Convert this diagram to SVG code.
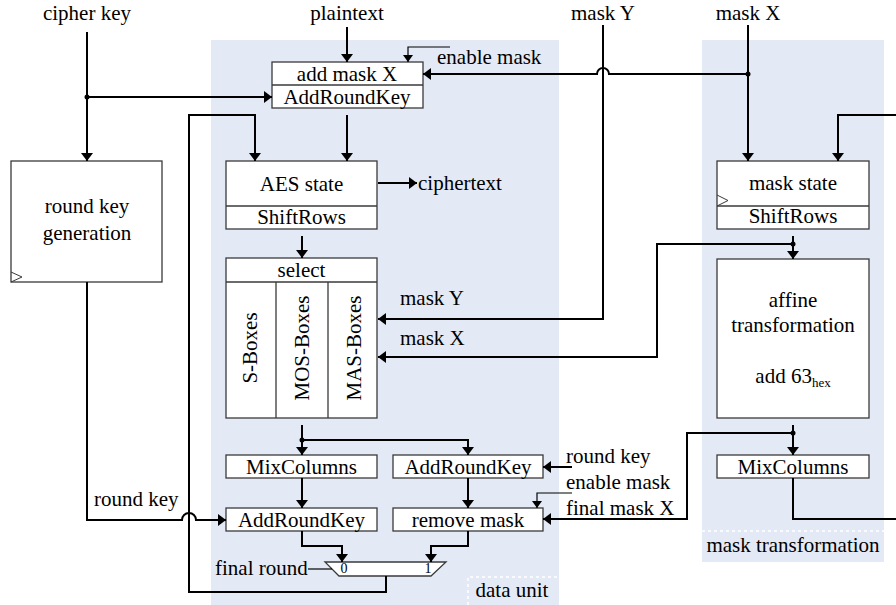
<svg xmlns="http://www.w3.org/2000/svg" width="896" height="605" viewBox="0 0 896 605" font-family="'Liberation Serif', 'Times New Roman', 'DejaVu Serif', serif">
<style>
text{font-family:'Liberation Serif','Times New Roman','DejaVu Serif',serif;font-size:21px;fill:#000}
.c{text-anchor:middle}
.box{fill:#fff;stroke:#3a3a3a;stroke-width:1.3}
.ln{fill:none;stroke:#000;stroke-width:2}
.thin{fill:none;stroke:#000;stroke-width:1.2}
.bg{fill:#e4eaf5}
.dash{fill:none;stroke:#fff;stroke-width:1.5;stroke-dasharray:3 3}
.clk{fill:none;stroke:#3a3a3a;stroke-width:1}
.small{font-size:14px}
</style>
<defs>
<marker id="arr" viewBox="0 0 8 12" refX="8" refY="6" markerWidth="8" markerHeight="12" markerUnits="userSpaceOnUse" orient="auto">
<path d="M0,0 L8,6 L0,12 z" fill="#000"/>
</marker>
<marker id="arrs" viewBox="0 0 7 10" refX="7" refY="5" markerWidth="7" markerHeight="10" markerUnits="userSpaceOnUse" orient="auto">
<path d="M0,0 L7,5 L0,10 z" fill="#000"/>
</marker>
</defs>

<g id="backgrounds">
<rect class="bg" x="211" y="40" width="348" height="565"/>
<rect class="bg" x="702" y="40" width="182" height="522"/>
<path class="dash" d="M468,605 V577 H559"/>
<path class="dash" d="M702,531 H884"/>
<text class="c" x="512" y="597">data unit</text>
<text class="c" x="793" y="552">mask transformation</text>
</g>

<g id="labels">
<text class="c" x="87" y="20">cipher key</text>
<text class="c" x="347" y="20">plaintext</text>
<text class="c" x="603" y="20">mask Y</text>
<text class="c" x="748" y="20">mask X</text>
<text x="437" y="64">enable mask</text>
<text x="418" y="190">ciphertext</text>
<text x="400" y="305">mask Y</text>
<text x="400" y="345">mask X</text>
<text x="566" y="463">round key</text>
<text x="566" y="489">enable mask</text>
<text x="566" y="515">final mask X</text>
<text x="94" y="506">round key</text>
<text x="215" y="575">final round</text>
</g>

<g id="roundkeygen">
<rect class="box" x="11" y="161" width="151" height="121"/>
<path class="clk" d="M11,272 L22,277 L11,282"/>
<text class="c" x="87" y="213">round key</text>
<text class="c" x="87" y="240">generation</text>
</g>

<g id="addmask">
<rect class="box" x="272" y="62" width="151" height="46"/>
<line x1="272" y1="85" x2="423" y2="85" stroke="#3a3a3a" stroke-width="1.3"/>
<text class="c" x="347" y="81">add mask X</text>
<text class="c" x="347" y="104">AddRoundKey</text>
</g>

<g id="aesstate">
<rect class="box" x="226" y="161" width="151" height="68"/>
<line x1="226" y1="206" x2="377" y2="206" stroke="#3a3a3a" stroke-width="1.3"/>
<text class="c" x="301.5" y="191">AES state</text>
<text class="c" x="301.5" y="224">ShiftRows</text>
</g>

<g id="sboxes">
<rect class="box" x="226" y="258" width="151" height="160"/>
<line x1="226" y1="282" x2="377" y2="282" stroke="#3a3a3a" stroke-width="1.3"/>
<line x1="276" y1="282" x2="276" y2="418" stroke="#3a3a3a" stroke-width="1.3"/>
<line x1="328" y1="282" x2="328" y2="418" stroke="#3a3a3a" stroke-width="1.3"/>
<text class="c" x="301.5" y="277">select</text>
<text class="c" transform="translate(257,348) rotate(-90)">S-Boxes</text>
<text class="c" transform="translate(309,348) rotate(-90)">MOS-Boxes</text>
<text class="c" transform="translate(361,348) rotate(-90)">MAS-Boxes</text>
</g>

<g id="mixcolumns">
<rect class="box" x="226" y="455" width="151" height="23"/>
<text class="c" x="301.5" y="474">MixColumns</text>
</g>

<g id="addroundkey2">
<rect class="box" x="393" y="455" width="150" height="23"/>
<text class="c" x="468" y="474">AddRoundKey</text>
</g>

<g id="addroundkey3">
<rect class="box" x="226" y="508" width="151" height="23"/>
<text class="c" x="301.5" y="527">AddRoundKey</text>
</g>

<g id="removemask">
<rect class="box" x="393" y="508" width="150" height="23"/>
<text class="c" x="468" y="527">remove mask</text>
</g>

<g id="mux">
<path class="box" d="M325,562 H446 L431,576 H339 Z"/>
<text class="c small" x="344" y="573">0</text>
<text class="c small" x="428" y="573">1</text>
</g>

<g id="maskstate">
<rect class="box" x="717" y="161" width="152" height="68"/>
<line x1="717" y1="206" x2="869" y2="206" stroke="#3a3a3a" stroke-width="1.3"/>
<path class="clk" d="M717,195 L728,200.5 L717,206"/>
<text class="c" x="793" y="190">mask state</text>
<text class="c" x="793" y="223">ShiftRows</text>
</g>

<g id="affine">
<rect class="box" x="717" y="259" width="152" height="159"/>
<text class="c" x="793" y="307">affine</text>
<text class="c" x="793" y="332">transformation</text>
<text class="c" x="793" y="383">add 63<tspan font-size="13" dy="4">hex</tspan></text>
</g>

<g id="maskmixcolumns">
<rect class="box" x="717" y="455" width="152" height="23"/>
<text class="c" x="793" y="474">MixColumns</text>
</g>

<g id="connectors">
<path class="ln" d="M347,27 V62" marker-end="url(#arr)"/>
<path class="thin" d="M450,47 H408 V62" marker-end="url(#arrs)"/>
<path class="ln" d="M87,32 V161" marker-end="url(#arr)"/>
<path class="ln" d="M87,97 H272" marker-end="url(#arr)"/>
<circle cx="87" cy="97" r="2.5"/>
<path class="ln" d="M748,25 V161" marker-end="url(#arr)"/>
<path class="ln" d="M748,74 H609 A6,6 0 0 0 597,74 H423" marker-end="url(#arr)"/>
<circle cx="748" cy="74" r="2.5"/>
<path class="ln" d="M603,25 V319 H378" marker-end="url(#arr)"/>
<path class="ln" d="M347,115 V161" marker-end="url(#arr)"/>
<path class="ln" d="M386,576 V592 H189 V115 H255 V161" marker-end="url(#arr)"/>
<path class="ln" d="M378,183 H417" marker-end="url(#arr)"/>
<path class="ln" d="M302,236 V258" marker-end="url(#arr)"/>
<path class="ln" d="M302,425 V455" marker-end="url(#arr)"/>
<path class="ln" d="M302,440 H468 V455" marker-end="url(#arr)"/>
<circle cx="302" cy="440" r="2.5"/>
<path class="ln" d="M302,478 V508" marker-end="url(#arr)"/>
<path class="ln" d="M468,478 V508" marker-end="url(#arr)"/>
<path class="ln" d="M572,467 H543" marker-end="url(#arr)"/>
<path class="thin" d="M572,493 H537 V508" marker-end="url(#arrs)"/>
<path class="ln" d="M302,531 V546 H342 V562" marker-end="url(#arr)"/>
<path class="ln" d="M468,531 V546 H431 V562" marker-end="url(#arr)"/>
<path class="thin" d="M308,569 H332"/>
<path class="ln" d="M87,282 V520 H182 A7,7 0 0 1 196,520 H226" marker-end="url(#arr)"/>
<path class="ln" d="M896,115 H838 V161" marker-end="url(#arr)"/>
<path class="ln" d="M793,236 V259" marker-end="url(#arr)"/>
<path class="ln" d="M793,244 H657 V357 H378" marker-end="url(#arr)"/>
<circle cx="793" cy="244" r="2.5"/>
<path class="ln" d="M793,425 V455" marker-end="url(#arr)"/>
<path class="ln" d="M793,433 H687 V519 H543" marker-end="url(#arr)"/>
<circle cx="793" cy="433" r="2.5"/>
<path class="ln" d="M793,478 V519 H896"/>
</g>
</svg>
